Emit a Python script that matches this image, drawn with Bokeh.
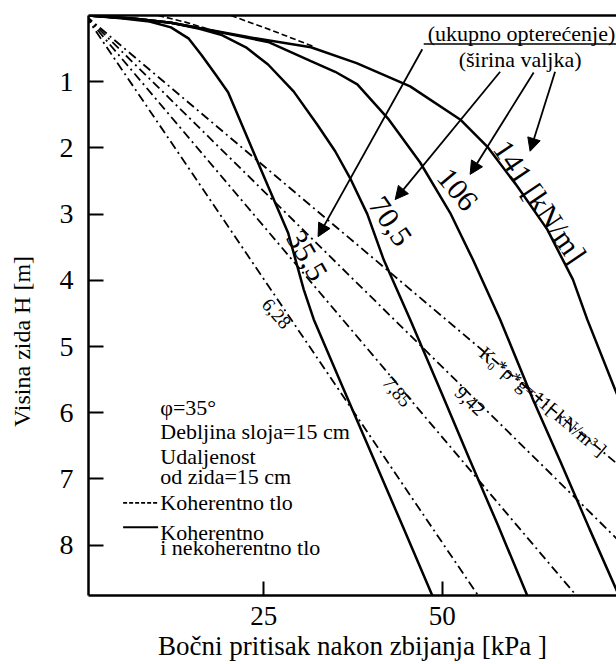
from bokeh.plotting import figure
from bokeh.models import Range1d, FixedTicker, LinearAxis, Label, Arrow, NormalHead
from bokeh.embed import file_html
from bokeh.resources import INLINE

FONT = "Liberation Serif"

# ---- axes ----
y_ticks = [1, 2, 3, 4, 5, 6, 7, 8]
x_ticks = [25, 50]
x_title = "Bočni pritisak nakon zbijanja [kPa ]"
y_title = "Visina zida H [m]"

# ---- solid curves: lateral pressure after compaction (kPa) vs depth H (m) ----
c35_x = [0.45, 5, 9, 12, 14.5, 16.3, 18.3, 20.0, 22.8, 25.6, 28.4, 30.6, 32.0, 36.0, 40.4, 44.4, 48.6]
c35_y = [0, 0.04, 0.09, 0.18, 0.35, 0.60, 0.90, 1.16, 1.87, 2.58, 3.28, 4.14, 4.59, 5.60, 6.70, 7.70, 8.76]

c70_x = [0.45, 7, 12, 16, 19, 22.5, 25.6, 29.2, 32.5, 35.0, 37.2, 39.5, 41.8, 45.5, 49.9, 53.8, 57.8, 61.9]
c70_y = [0, 0.05, 0.11, 0.20, 0.29, 0.48, 0.74, 1.15, 1.65, 2.05, 2.48, 3.00, 3.69, 4.59, 5.70, 6.70, 7.70, 8.76]

c106_x = [0.45, 7, 12, 16.5, 21, 25.6, 31.6, 35.0, 38.1, 42.5, 46.9, 51.1, 54.3, 58.1, 62.7, 66.6, 70.6, 74.9]
c106_y = [0, 0.05, 0.11, 0.20, 0.30, 0.40, 0.69, 0.85, 1.04, 1.57, 2.22, 2.98, 3.69, 4.59, 5.80, 6.75, 7.75, 8.80]

c141_x = [0.45, 7, 12, 16.5, 23, 31.6, 38, 45.5, 52.5, 56.3, 60.5, 64.7, 68.3, 70.3, 74.2, 76.0]
c141_y = [0, 0.05, 0.11, 0.20, 0.33, 0.48, 0.72, 1.07, 1.57, 1.98, 2.58, 3.23, 3.99, 4.59, 5.65, 6.10]

# ---- dashed (cohesive soil) segments near the top ----
d1_x = [10.2, 14.0, 18.0]
d1_y = [0, 0.10, 0.23]
d2_x = [20.4, 26.0, 32.0]
d2_y = [0, 0.22, 0.47]

# ---- dash-dot lines: K0*rho*g [kN/m3] ----
k_values = [6.28, 7.85, 9.42, 11.0]
h_max = 8.76

# ---- labels ----
curve_labels = ["35,5", "70,5", "106", "141 [kN/m]"]
curve_lab_x = [31.0, 42.7, 52.1, 63.7]
curve_lab_y = [3.63, 3.11, 2.63, 2.81]
curve_lab_ang = [-60, -56, -50, -56]

k_labels = ["6,28", "7,85", "9,42", "K\u2080*\u03c1*g=11[ kN/m\u00b3 ]"]
k_lab_x = [26.8, 43.7, 53.9, 64.1]
k_lab_y = [4.50, 5.68, 5.82, 5.83]
k_lab_ang = [-49, -49, -43, -40]

# arrows from the header to the curve labels
arr_x0 = [47.2, 58.1, 62.8, 65.8]
arr_y0 = [0.51, 0.85, 0.86, 0.85]
arr_x1 = [32.6, 43.4, 53.9, 62.3]
arr_y1 = [3.34, 2.78, 2.40, 2.05]

p = figure(width=616, height=664,
           x_range=Range1d(0.45, 74.4), y_range=Range1d(8.76, 0),
           output_backend="svg", toolbar_location=None,
           min_border_left=88, min_border_right=0, min_border_top=15, min_border_bottom=69,
           outline_line_color=None)
p.grid.visible = False
p.background_fill_color = "white"

# x axis
xa = p.xaxis[0]
xa.ticker = FixedTicker(ticks=x_ticks)
xa.major_tick_in = 14
xa.major_tick_out = 0
xa.minor_tick_in = 0
xa.minor_tick_out = 0
xa.axis_line_width = 2.5
xa.major_tick_line_width = 2
xa.major_label_text_font = FONT
xa.major_label_text_font_size = "27px"
xa.major_label_text_color = "black"
xa.major_label_standoff = 11
xa.axis_label = x_title
xa.axis_label_text_font = FONT
xa.axis_label_text_font_style = "normal"
xa.axis_label_text_font_size = "27px"
xa.axis_label_text_color = "black"
xa.axis_label_standoff = 3

# y axis (title padded at its end so that it sits lower, as in the reference)
ya = p.yaxis[0]
ya.ticker = FixedTicker(ticks=y_ticks)
ya.major_tick_in = 15
ya.major_tick_out = 0
ya.minor_tick_in = 0
ya.minor_tick_out = 0
ya.axis_line_width = 2.5
ya.major_tick_line_width = 2
ya.major_label_text_font = FONT
ya.major_label_text_font_size = "28px"
ya.major_label_text_color = "black"
ya.major_label_standoff = 15
ya.axis_label = y_title + "\u00a0" * 12
ya.axis_label_text_font = FONT
ya.axis_label_text_font_style = "normal"
ya.axis_label_text_font_size = "24px"
ya.axis_label_text_color = "black"
ya.axis_label_standoff = 22

# top border
top = LinearAxis(ticker=FixedTicker(ticks=[]), major_label_text_font_size="0px",
                 axis_line_width=2.5, major_tick_in=0, major_tick_out=0,
                 minor_tick_in=0, minor_tick_out=0)
p.add_layout(top, "above")

# dash-dot lines
for k in k_values:
    p.line([0, k * h_max], [0, h_max], line_color="black", line_width=1.8, line_dash="9 4 2 4")

# solid curves
for cx, cy in [(c35_x, c35_y), (c70_x, c70_y), (c106_x, c106_y), (c141_x, c141_y)]:
    p.line(cx, cy, line_color="black", line_width=2.5)

# dashed segments
for dx, dy in [(d1_x, d1_y), (d2_x, d2_y)]:
    p.line(dx, dy, line_color="black", line_width=1.6, line_dash="6 3")

# curve labels
for t, x, y, a in zip(curve_labels, curve_lab_x, curve_lab_y, curve_lab_ang):
    p.add_layout(Label(x=x, y=y, text=t, angle=a, angle_units="deg",
                       text_font=FONT, text_font_size="30px", text_color="black",
                       text_align="center", text_baseline="middle"))
for t, x, y, a in zip(k_labels, k_lab_x, k_lab_y, k_lab_ang):
    p.add_layout(Label(x=x, y=y, text=t, angle=a, angle_units="deg",
                       text_font=FONT, text_font_size="19px", text_color="black",
                       text_align="center", text_baseline="middle"))

# header
p.add_layout(Label(x=61.1, y=0.27, text="(ukupno opterećenje)", text_font=FONT,
                   text_font_size="22px", text_align="center", text_baseline="middle",
                   text_color="black"))
p.line([47.4, 74.4], [0.43, 0.43], line_color="black", line_width=1.5)
p.add_layout(Label(x=60.9, y=0.66, text="(širina valjka)", text_font=FONT,
                   text_font_size="22px", text_align="center", text_baseline="middle",
                   text_color="black"))

for x0, y0, x1, y1 in zip(arr_x0, arr_y0, arr_x1, arr_y1):
    p.add_layout(Arrow(x_start=x0, y_start=y0, x_end=x1, y_end=y1, line_width=1.8,
                       line_color="black",
                       end=NormalHead(size=13, fill_color="black", line_color="black")))

# annotation block
notes = ["\u03c6=35\u00b0", "Debljina sloja=15 cm", "Udaljenost", "od zida=15 cm",
         "Koherentno tlo", "Koherentno", "i nekoherentno tlo"]
notes_y = [5.92, 6.29, 6.66, 6.96, 7.36, 7.81, 8.04]
for t, y in zip(notes, notes_y):
    p.add_layout(Label(x=10.5, y=y, text=t, text_font=FONT, text_font_size="22px",
                       text_align="left", text_baseline="middle", text_color="black"))
p.line([5.3, 10.2], [7.36, 7.36], line_color="black", line_width=1.8, line_dash="4 2")
p.line([5.3, 10.2], [7.73, 7.73], line_color="black", line_width=2)

open("out.html", "w").write(file_html(p, INLINE))
